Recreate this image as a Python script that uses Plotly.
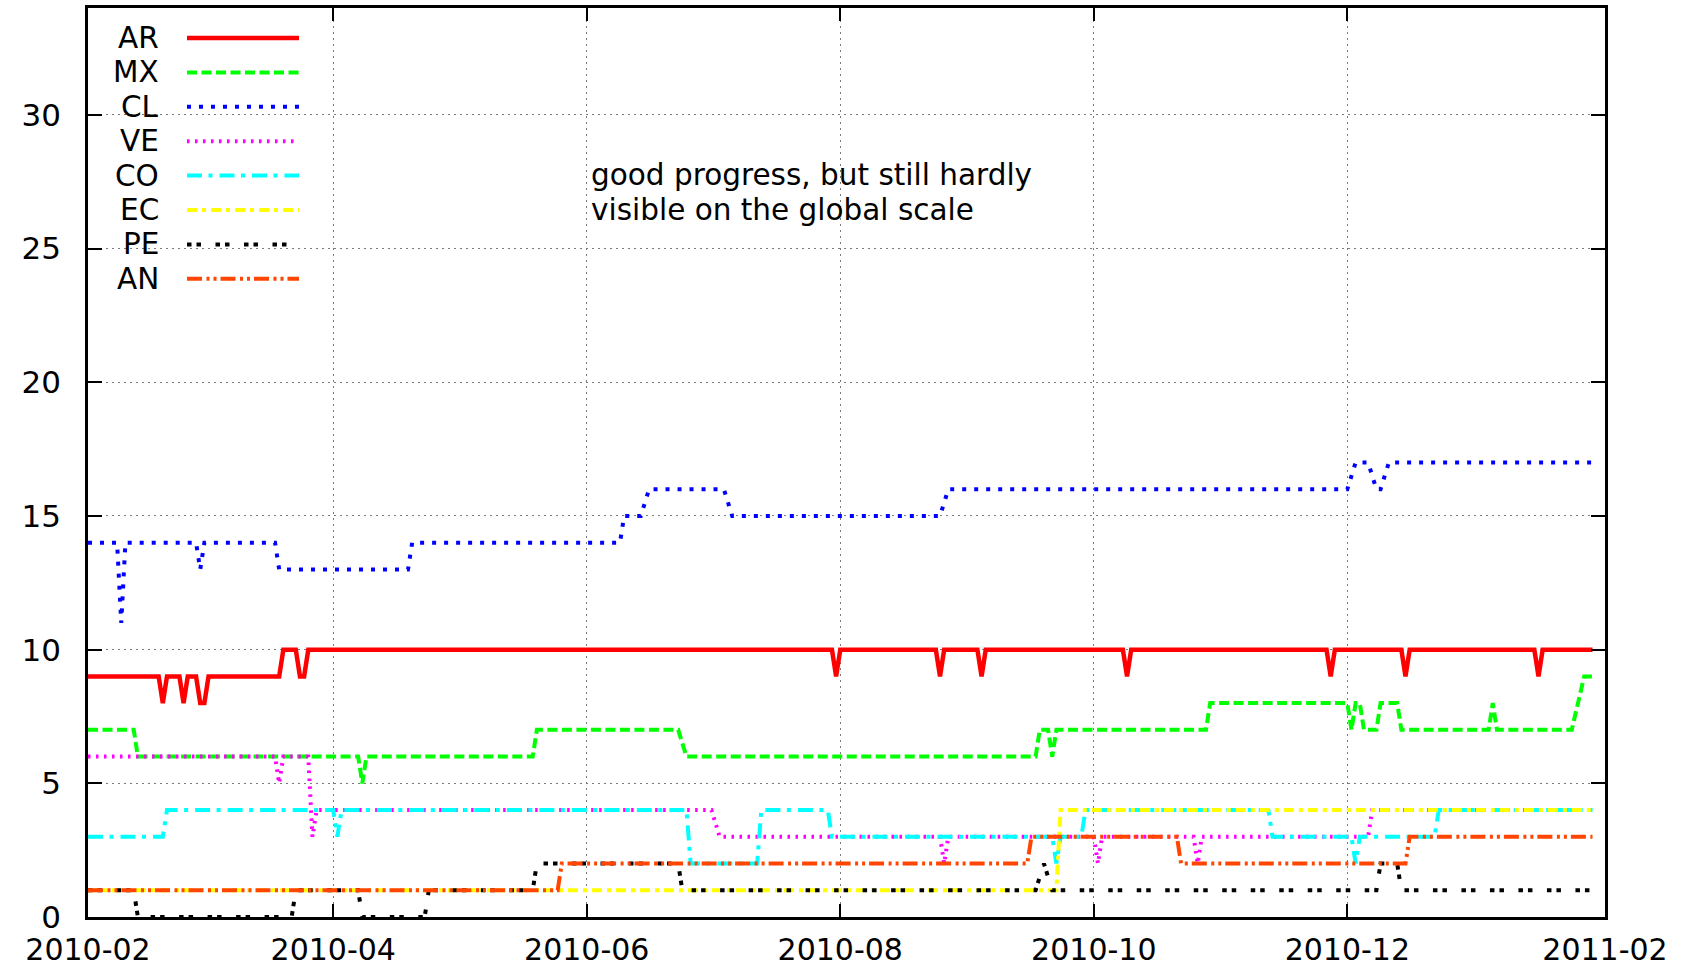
import plotly.graph_objects as go

# ---------------- data ----------------
ar_dates = ["2010-02-01", "2010-02-18", "2010-02-19", "2010-02-20", "2010-02-23", "2010-02-24",
            "2010-02-25", "2010-02-27", "2010-02-28", "2010-03-01", "2010-03-02", "2010-03-19",
            "2010-03-20", "2010-03-23", "2010-03-24", "2010-03-25", "2010-03-26", "2010-07-30",
            "2010-07-31", "2010-08-01", "2010-08-24", "2010-08-25", "2010-08-26", "2010-09-03",
            "2010-09-04", "2010-09-05", "2010-10-08", "2010-10-09", "2010-10-10", "2010-11-26",
            "2010-11-27", "2010-11-28", "2010-12-14", "2010-12-15", "2010-12-16", "2011-01-15",
            "2011-01-16", "2011-01-17", "2011-01-29"]
ar_vals = [9, 9, 8, 9, 9, 8, 9, 9, 8, 8, 9, 9, 10, 10, 9, 9, 10, 10, 9, 10, 10, 9, 10, 10,
           9, 10, 10, 9, 10, 10, 9, 10, 10, 9, 10, 10, 9, 10, 10]

mx_dates = ["2010-02-01", "2010-02-12", "2010-02-13", "2010-04-07", "2010-04-08", "2010-04-09",
            "2010-05-19", "2010-05-20", "2010-06-23", "2010-06-25", "2010-09-17", "2010-09-18",
            "2010-09-20", "2010-09-21", "2010-09-22", "2010-10-28", "2010-10-29", "2010-12-01",
            "2010-12-02", "2010-12-03", "2010-12-04", "2010-12-05", "2010-12-08", "2010-12-09",
            "2010-12-13", "2010-12-14", "2011-01-04", "2011-01-05", "2011-01-06", "2011-01-24",
            "2011-01-27", "2011-01-29"]
mx_vals = [7, 7, 6, 6, 5, 6, 6, 7, 7, 6, 6, 7, 7, 6, 7, 7, 8, 8, 7, 8, 8, 7, 7, 8, 8, 7,
           7, 8, 7, 7, 9, 9]

cl_dates = ["2010-02-01", "2010-02-08", "2010-02-09", "2010-02-10", "2010-02-27", "2010-02-28",
            "2010-03-01", "2010-03-18", "2010-03-19", "2010-04-19", "2010-04-20", "2010-06-09",
            "2010-06-10", "2010-06-14", "2010-06-16", "2010-07-04", "2010-07-06", "2010-08-25",
            "2010-08-27", "2010-12-01", "2010-12-03", "2010-12-06", "2010-12-08", "2010-12-09",
            "2010-12-11", "2011-01-29"]
cl_vals = [14, 14, 11, 14, 14, 13, 14, 14, 13, 13, 14, 14, 15, 15, 16, 16, 15, 15, 16, 16,
           17, 17, 16, 16, 17, 17]

ve_dates = ["2010-02-01", "2010-03-18", "2010-03-19", "2010-03-20", "2010-03-26", "2010-03-27",
            "2010-03-28", "2010-07-01", "2010-07-03", "2010-08-25", "2010-08-26", "2010-08-27",
            "2010-10-01", "2010-10-02", "2010-10-03", "2010-10-25", "2010-10-26", "2010-10-27",
            "2010-12-06", "2010-12-07", "2011-01-29"]
ve_vals = [6, 6, 5, 6, 6, 3, 4, 4, 3, 3, 2, 3, 3, 2, 3, 3, 2, 3, 3, 4, 4]

co_dates = ["2010-02-01", "2010-02-19", "2010-02-20", "2010-04-01", "2010-04-02", "2010-04-03",
            "2010-06-25", "2010-06-26", "2010-07-12", "2010-07-13", "2010-07-29", "2010-07-30",
            "2010-09-21", "2010-09-22", "2010-09-23", "2010-09-28", "2010-09-29", "2010-11-12",
            "2010-11-13", "2010-12-02", "2010-12-03", "2010-12-04", "2010-12-22", "2010-12-23",
            "2011-01-29"]
co_vals = [3, 3, 4, 4, 3, 4, 4, 2, 2, 4, 4, 3, 3, 2, 3, 3, 4, 4, 3, 3, 2, 3, 3, 4, 4]

ec_dates = ["2010-02-01", "2010-09-22", "2010-09-23", "2011-01-29"]
ec_vals = [1, 1, 4, 4]

pe_dates = ["2010-02-01", "2010-02-12", "2010-02-13", "2010-03-22", "2010-03-23", "2010-04-07",
            "2010-04-08", "2010-04-23", "2010-04-24", "2010-05-19", "2010-05-20", "2010-06-23",
            "2010-06-24", "2010-09-17", "2010-09-19", "2010-09-21", "2010-12-08", "2010-12-09",
            "2010-12-13", "2010-12-14", "2011-01-29"]
pe_vals = [1, 1, 0, 0, 1, 1, 0, 0, 1, 1, 2, 2, 1, 1, 2, 1, 1, 2, 2, 1, 1]

an_dates = ["2010-02-01", "2010-05-25", "2010-05-26", "2010-09-15", "2010-09-16", "2010-10-21",
            "2010-10-22", "2010-12-15", "2010-12-16", "2011-01-29"]
an_vals = [1, 1, 2, 2, 3, 3, 2, 2, 3, 3]

names = ["AR", "MX", "CL", "VE", "CO", "EC", "PE", "AN"]
all_dates = [ar_dates, mx_dates, cl_dates, ve_dates, co_dates, ec_dates, pe_dates, an_dates]
all_vals = [ar_vals, mx_vals, cl_vals, ve_vals, co_vals, ec_vals, pe_vals, an_vals]

x_tick_vals = ["2010-02-01", "2010-04-01", "2010-06-01", "2010-08-01", "2010-10-01",
               "2010-12-01", "2011-02-01"]
x_tick_text = ["2010-02", "2010-04", "2010-06", "2010-08", "2010-10", "2010-12", "2011-02"]
y_tick_vals = [0, 5, 10, 15, 20, 25, 30]

note_lines = ["good progress, but still hardly", "visible on the global scale"]

# ---------------- styles ----------------
colors = ["#ff0000", "#00ff00", "#0000ff", "#ff00ff", "#00ffff", "#ffff00", "#000000", "#ff4500"]
widths = [4.5, 4, 4, 4, 4, 4, 4, 4]
dashes = ["solid", "10px,4.5px", "4px,8px", "2.5px,5.5px", "15px,6.5px,4px,7px",
          "10px,5px,4px,5px", "4.5px,5px,4.5px,14.5px", "15px,4.5px,3px,4px,3px,4px"]

FONT = "DejaVu Sans"
XTICK_FS = 30
YTICK_FS = 31
TEXT_FS = 29.5
W, H = 1688, 969
L, R, T, B = 88, 1605, 8, 917


def px_x(x):
    return (x - L) / (R - L)


def px_y(y):
    return (B - y) / (B - T)


fig = go.Figure()
for n, d, v, c, w, ds in zip(names, all_dates, all_vals, colors, widths, dashes):
    fig.add_trace(go.Scatter(x=d, y=v, mode="lines", name=n, showlegend=False,
                             line=dict(color=c, width=w, dash=ds)))

shapes = [dict(type="rect", xref="paper", yref="paper", x0=px_x(L + 2), x1=px_x(323),
               y0=px_y(297), y1=px_y(T + 2), fillcolor="white", line=dict(width=0),
               layer="between")]
annotations = []
for i, (n, c, w, ds) in enumerate(zip(names, colors, widths, dashes)):
    yr = 38 + 34.4 * i
    shapes.append(dict(type="line", xref="paper", yref="paper", x0=px_x(187), x1=px_x(299),
                       y0=px_y(yr), y1=px_y(yr), line=dict(color=c, width=w, dash=ds),
                       layer="above"))
    annotations.append(dict(text=n, xref="paper", yref="paper", x=px_x(161), y=px_y(yr),
                            xanchor="right", yanchor="middle", showarrow=False,
                            font=dict(family=FONT, size=TEXT_FS, color="black")))
for j, line in enumerate(note_lines):
    annotations.append(dict(text=line, xref="paper", yref="paper", x=px_x(589),
                            y=px_y(175 + 35 * j), xanchor="left", yanchor="middle",
                            showarrow=False,
                            font=dict(family=FONT, size=TEXT_FS, color="black")))

axis_common = dict(showline=True, linecolor="black", linewidth=2.5, mirror="allticks",
                   ticks="inside", tickcolor="black", tickwidth=1.5, automargin=False,
                   showgrid=True, gridcolor="#7a7a7a", gridwidth=1.2, griddash="2px,4px",
                   zeroline=False)

fig.update_layout(
    width=W, height=H,
    margin=dict(l=L, r=W - R, t=T, b=H - B, pad=0, autoexpand=False),
    plot_bgcolor="white", paper_bgcolor="white",
    xaxis=dict(type="date", range=["2010-02-01", "2011-02-01"], tickmode="array",
               tickvals=x_tick_vals, ticktext=x_tick_text, ticklen=13,
               ticklabelstandoff=4, tickfont=dict(family=FONT, size=XTICK_FS, color="black"),
               **axis_common),
    yaxis=dict(range=[0, 34], tickmode="array", tickvals=y_tick_vals, ticklen=14,
               ticklabelstandoff=18, tickfont=dict(family=FONT, size=YTICK_FS, color="black"),
               **axis_common),
    shapes=shapes, annotations=annotations,
)

fig.write_html("out.html", config={"displayModeBar": False},
               post_script="document.body.style.margin='0';"
                           "document.body.style.overflow='hidden';")
